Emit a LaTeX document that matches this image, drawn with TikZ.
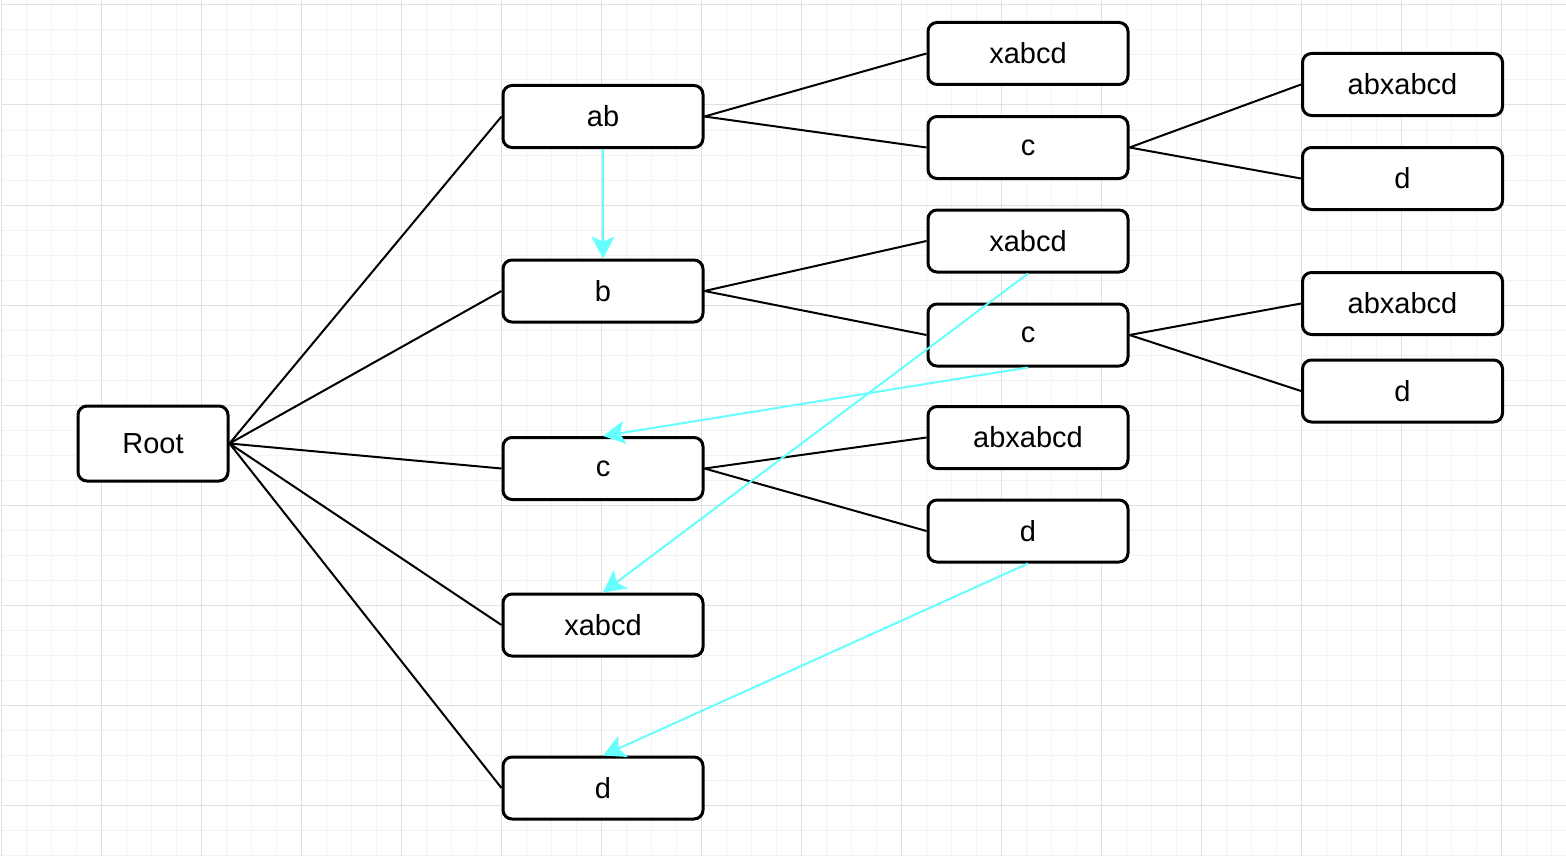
\documentclass[tikz,border=0pt]{standalone}
\usepackage{fontspec}
\setmainfont{Liberation Sans}
\usetikzlibrary{arrows.meta}
\pgfdeclarelayer{background}
\pgfdeclarelayer{foreground}
\pgfsetlayers{background,main,foreground}
\definecolor{gridminor}{HTML}{F3F3F3}
\definecolor{gridmajor}{HTML}{E0E0E0}
\definecolor{linkcyan}{HTML}{66FFFF}
\tikzset{
  box/.style={draw=black, line width=1.5pt, rounded corners=4.5pt, fill=white,
    minimum width=100pt, minimum height=31pt, inner sep=0pt, font=\fontsize{14.5}{17}\selectfont},
  rootbox/.style={box, minimum width=75pt, minimum height=37.5pt},
  edge/.style={draw=black, line width=1pt},
  jump/.style={draw=linkcyan, line width=1pt, -{Stealth[length=11pt,width=11.5pt,inset=2.5pt]}}
}
\begin{document}
\begin{tikzpicture}[x=0.5pt,y=-0.5pt]
\useasboundingbox (0,0) rectangle (1566,856);
\begin{pgfonlayer}{background}
\fill[white] (0,0) rectangle (1566,856);
\foreach \gx in {26,51,...,1566} \draw[gridminor, line width=0.5pt] (\gx,0) -- (\gx,856);
\foreach \gy in {30,55,...,856} \draw[gridminor, line width=0.5pt] (2,\gy) -- (1566,\gy);
\foreach \gx in {1,101,...,1566} \draw[gridmajor, line width=0.5pt] (\gx,0) -- (\gx,856);
\foreach \gy in {5,105,...,856} \draw[gridmajor, line width=0.5pt] (2,\gy) -- (1566,\gy);
\end{pgfonlayer}
% first column
\node[rootbox] (root) at (153,443.5) {Root};
% second column
\node[box] (ab) at (603,116.5) {ab};
\node[box] (b) at (603,291) {b};
\node[box] (c) at (603,468.5) {c};
\node[box] (xabcd) at (603,625) {xabcd};
\node[box] (d) at (603,788) {d};
% third column
\node[box] (abx) at (1028,53.5) {xabcd};
\node[box] (abc) at (1028,147.5) {c};
\node[box] (bx) at (1028,241) {xabcd};
\node[box] (bc) at (1028,335) {c};
\node[box] (cabx) at (1028,437.5) {abxabcd};
\node[box] (cd) at (1028,531) {d};
% fourth column
\node[box] (abcabx) at (1402.5,84.5) {abxabcd};
\node[box] (abcd) at (1402.5,178.5) {d};
\node[box] (bcabx) at (1402.5,303.5) {abxabcd};
\node[box] (bcd) at (1402.5,391) {d};
% tree edges
\foreach \kid in {ab,b,c,xabcd,d}
  \draw[edge] (root.east) -- (\kid.west);
\draw[edge] (ab.east) -- (abx.west);
\draw[edge] (ab.east) -- (abc.west);
\draw[edge] (abc.east) -- (abcabx.west);
\draw[edge] (abc.east) -- (abcd.west);
\draw[edge] (b.east) -- (bx.west);
\draw[edge] (b.east) -- (bc.west);
\draw[edge] (bc.east) -- (bcabx.west);
\draw[edge] (bc.east) -- (bcd.west);
\draw[edge] (c.east) -- (cabx.west);
\draw[edge] (c.east) -- (cd.west);
% suffix links
\begin{pgfonlayer}{foreground}
\draw[jump] (ab.south) -- (b.north);
\draw[jump] (bx.south) -- (xabcd.north);
\draw[jump] (bc.south) -- (c.north);
\draw[jump] (cd.south) -- (d.north);
\end{pgfonlayer}
\end{tikzpicture}
\end{document}
